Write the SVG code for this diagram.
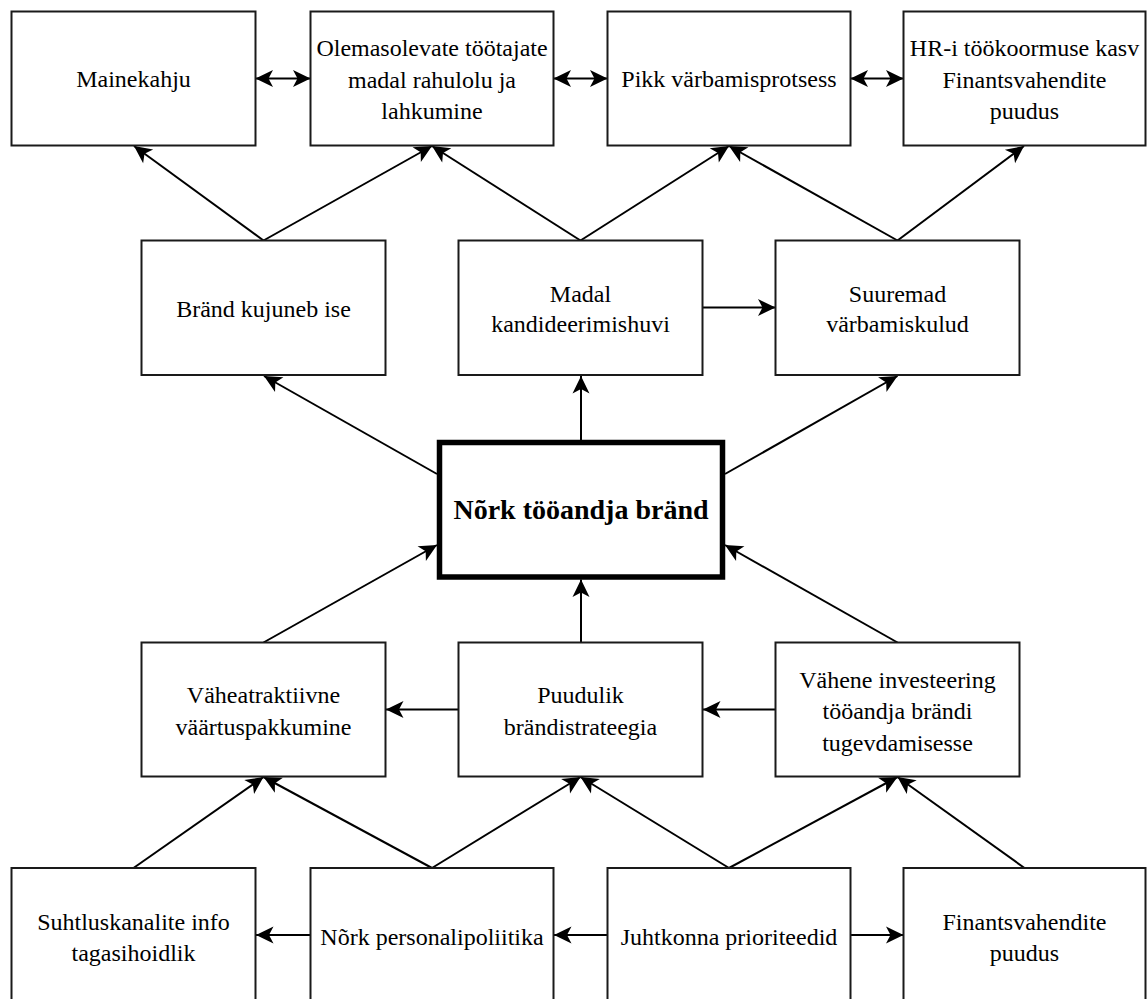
<svg xmlns="http://www.w3.org/2000/svg" width="1147" height="999" viewBox="0 0 1147 999">
  <style>
    .box { fill: #ffffff; stroke: #1a1a1a; stroke-width: 2; }
    .core { fill: #ffffff; stroke: #000000; stroke-width: 5.5; }
    .lbl { font-family: "Liberation Serif", "Times New Roman", serif; font-size: 24px; fill: #000000; text-anchor: middle; }
    .core-lbl { font-family: "Liberation Serif", "Times New Roman", serif; font-size: 28px; font-weight: bold; fill: #000000; text-anchor: middle; }
    .edge { fill: none; stroke: #000000; stroke-width: 2; }
    .to { marker-end: url(#arrow); }
    .both { marker-start: url(#arrow); marker-end: url(#arrow); }
  </style>
  <defs>
    <marker id="arrow" markerUnits="userSpaceOnUse" viewBox="-20 -11 22 22" markerWidth="22" markerHeight="22" refX="0" refY="0" orient="auto-start-reverse">
      <path d="M0,0 L-17.5,-8.5 L-13,0 L-17.5,8.5 Z" fill="#000000"/>
    </marker>
  </defs>

  <rect width="1147" height="999" fill="#ffffff"/>

  <!-- connectors -->
  <g id="connectors">
    <!-- top row, two-way links -->
    <line class="edge both" x1="255.5" y1="78.5" x2="310.5" y2="78.5"/>
    <line class="edge both" x1="553.5" y1="78.5" x2="607.5" y2="78.5"/>
    <line class="edge both" x1="850.5" y1="78.5" x2="903.5" y2="78.5"/>

    <!-- middle row to top row -->
    <line class="edge to" x1="263.5" y1="240.5" x2="134" y2="146"/>
    <line class="edge to" x1="263.5" y1="240.5" x2="432" y2="146"/>
    <line class="edge to" x1="580.5" y1="240.5" x2="432" y2="146"/>
    <line class="edge to" x1="580.5" y1="240.5" x2="729" y2="146"/>
    <line class="edge to" x1="897.5" y1="240.5" x2="729" y2="146"/>
    <line class="edge to" x1="897.5" y1="240.5" x2="1024" y2="146"/>
    <line class="edge to" x1="702.5" y1="307.5" x2="775.5" y2="307.5"/>

    <!-- core to middle row -->
    <line class="edge to" x1="437" y1="474" x2="264" y2="376"/>
    <line class="edge to" x1="581" y1="440" x2="581" y2="376"/>
    <line class="edge to" x1="725" y1="474" x2="897.5" y2="376"/>

    <!-- lower row to core -->
    <line class="edge to" x1="263.5" y1="642.5" x2="437" y2="545"/>
    <line class="edge to" x1="581" y1="642.5" x2="581" y2="579.5"/>
    <line class="edge to" x1="897.5" y1="642.5" x2="725" y2="545"/>
    <line class="edge to" x1="458.5" y1="709.5" x2="386" y2="709.5"/>
    <line class="edge to" x1="775.5" y1="709.5" x2="703" y2="709.5"/>

    <!-- bottom row to lower row -->
    <line class="edge to" x1="133.5" y1="868" x2="263.5" y2="777"/>
    <line class="edge to" x1="432" y1="868" x2="263.5" y2="777"/>
    <line class="edge to" x1="432" y1="868" x2="580.5" y2="777"/>
    <line class="edge to" x1="729" y1="868" x2="580.5" y2="777"/>
    <line class="edge to" x1="729" y1="868" x2="897.5" y2="777"/>
    <line class="edge to" x1="1024.5" y1="868" x2="897.5" y2="777"/>

    <!-- bottom row, horizontal -->
    <line class="edge to" x1="310.5" y1="935" x2="256" y2="935"/>
    <line class="edge to" x1="607.5" y1="935" x2="554" y2="935"/>
    <line class="edge to" x1="850.5" y1="935" x2="903.5" y2="935"/>
  </g>

  <!-- top row -->
  <g id="mainekahju">
    <rect class="box" x="11.5" y="11.5" width="244" height="134"/>
    <text class="lbl" x="133.5" y="87">Mainekahju</text>
  </g>
  <g id="tootajate-lahkumine">
    <rect class="box" x="310.5" y="11.5" width="243" height="134"/>
    <text class="lbl" x="432" y="56">Olemasolevate töötajate</text>
    <text class="lbl" x="432" y="87.5">madal rahulolu ja</text>
    <text class="lbl" x="432" y="119">lahkumine</text>
  </g>
  <g id="pikk-varbamine">
    <rect class="box" x="607.5" y="11.5" width="243" height="134"/>
    <text class="lbl" x="729" y="87">Pikk värbamisprotsess</text>
  </g>
  <g id="hr-koormus">
    <rect class="box" x="903.5" y="11.5" width="242" height="134"/>
    <text class="lbl" x="1024.5" y="56">HR-i töökoormuse kasv</text>
    <text class="lbl" x="1024.5" y="87.5">Finantsvahendite</text>
    <text class="lbl" x="1024.5" y="119">puudus</text>
  </g>

  <!-- middle row -->
  <g id="brand-kujuneb">
    <rect class="box" x="141.5" y="240.5" width="244" height="134.5"/>
    <text class="lbl" x="263.5" y="316.5">Bränd kujuneb ise</text>
  </g>
  <g id="madal-huvi">
    <rect class="box" x="458.5" y="240.5" width="244" height="134.5"/>
    <text class="lbl" x="580.5" y="301.5">Madal</text>
    <text class="lbl" x="580.5" y="332">kandideerimishuvi</text>
  </g>
  <g id="suuremad-kulud">
    <rect class="box" x="775.5" y="240.5" width="244" height="134.5"/>
    <text class="lbl" x="897.5" y="301.5">Suuremad</text>
    <text class="lbl" x="897.5" y="332">värbamiskulud</text>
  </g>

  <!-- core problem -->
  <g id="nork-brand">
    <rect class="core" x="439.5" y="442.5" width="283" height="134.5"/>
    <text class="core-lbl" x="581" y="519">Nõrk tööandja bränd</text>
  </g>

  <!-- lower row -->
  <g id="vaartuspakkumine">
    <rect class="box" x="141.5" y="642.5" width="244" height="134"/>
    <text class="lbl" x="263.5" y="702.5">Väheatraktiivne</text>
    <text class="lbl" x="263.5" y="734.5">väärtuspakkumine</text>
  </g>
  <g id="brandistrateegia">
    <rect class="box" x="458.5" y="642.5" width="244" height="134"/>
    <text class="lbl" x="580.5" y="702.5">Puudulik</text>
    <text class="lbl" x="580.5" y="734.5">brändistrateegia</text>
  </g>
  <g id="investeering">
    <rect class="box" x="775.5" y="642.5" width="244" height="134"/>
    <text class="lbl" x="897.5" y="687.5">Vähene investeering</text>
    <text class="lbl" x="897.5" y="719">tööandja brändi</text>
    <text class="lbl" x="897.5" y="750.5">tugevdamisesse</text>
  </g>

  <!-- bottom row -->
  <g id="suhtluskanalid">
    <rect class="box" x="11.5" y="868" width="244" height="140"/>
    <text class="lbl" x="133.5" y="929.5">Suhtluskanalite info</text>
    <text class="lbl" x="133.5" y="961">tagasihoidlik</text>
  </g>
  <g id="personalipoliitika">
    <rect class="box" x="310.5" y="868" width="243" height="140"/>
    <text class="lbl" x="432" y="945">Nõrk personalipoliitika</text>
  </g>
  <g id="juhtkond">
    <rect class="box" x="607.5" y="868" width="243" height="140"/>
    <text class="lbl" x="729" y="945">Juhtkonna prioriteedid</text>
  </g>
  <g id="finantsid">
    <rect class="box" x="903.5" y="868" width="242" height="140"/>
    <text class="lbl" x="1024.5" y="929.5">Finantsvahendite</text>
    <text class="lbl" x="1024.5" y="961">puudus</text>
  </g>
</svg>
